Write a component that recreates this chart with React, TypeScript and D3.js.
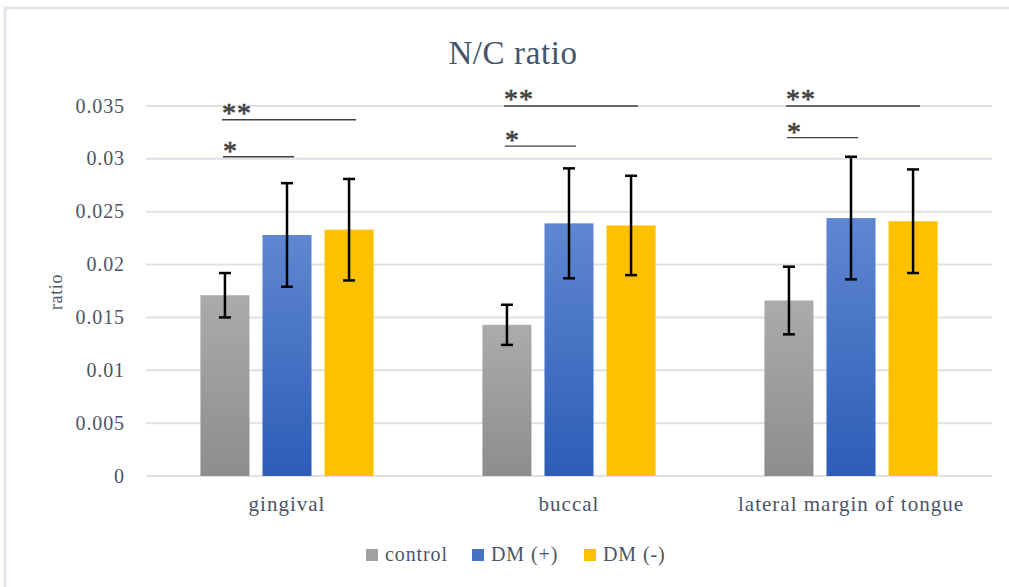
import React from "react";
import * as d3 from "d3";

const categories = ["gingival", "buccal", "lateral margin of tongue"];
const seriesNames = ["control", "DM (+)", "DM (-)"];

const controlValues = [0.0171, 0.0143, 0.0166];
const dmPlusValues = [0.0228, 0.0239, 0.0244];
const dmMinusValues = [0.0233, 0.0237, 0.0241];

const controlErr = [0.0021, 0.0019, 0.0032];
const dmPlusErr = [0.0049, 0.0052, 0.0058];
const dmMinusErr = [0.0048, 0.0047, 0.0049];

const yTicks = [0, 0.005, 0.01, 0.015, 0.02, 0.025, 0.03, 0.035];
const yTickLabels = ["0", "0.005", "0.01", "0.015", "0.02", "0.025", "0.03", "0.035"];

// significance brackets per category: ** control vs DM(-), * control vs DM(+)
const sigDoubleY = [0.0337, 0.035, 0.035];
const sigSingleY = [0.0302, 0.0312, 0.032];

const width = 1009;
const height = 587;
const margin = { top: 106, right: 17, bottom: 111, left: 146 };

const font = "'Liberation Serif', 'Times New Roman', serif";
const textColor = "#4a5567";

export default function App() {
  const x0 = d3
    .scaleBand()
    .domain(categories)
    .range([margin.left, width - margin.right])
    .paddingInner(0)
    .paddingOuter(0);

  const bw = x0.bandwidth();
  const x1 = d3
    .scaleBand()
    .domain(seriesNames)
    .range([bw * 0.193, bw * 0.807])
    .paddingInner(0.21)
    .paddingOuter(0);

  const y = d3
    .scaleLinear()
    .domain([0, 0.035])
    .range([height - margin.bottom, margin.top]);

  const values = [controlValues, dmPlusValues, dmMinusValues];
  const errs = [controlErr, dmPlusErr, dmMinusErr];
  const fills = ["url(#gradGray)", "url(#gradBlue)", "#ffc000"];
  const legendColors = ["#a0a0a0", "#4472c4", "#ffc000"];

  const cx = (cat: string, s: string) =>
    (x0(cat) as number) + (x1(s) as number) + x1.bandwidth() / 2;

  return (
    <svg
      width={width}
      height={height}
      style={{ position: "absolute", left: 0, top: 0, background: "#fff" }}
      fontFamily={font}
    >
      <defs>
        <linearGradient id="gradGray" x1="0" y1="0" x2="0" y2="1">
          <stop offset="0" stopColor="#ababab" />
          <stop offset="1" stopColor="#8d8d8d" />
        </linearGradient>
        <linearGradient id="gradBlue" x1="0" y1="0" x2="0" y2="1">
          <stop offset="0" stopColor="#5f87d1" />
          <stop offset="1" stopColor="#2d5db7" />
        </linearGradient>
      </defs>

      {/* frame */}
      <rect x={5} y={8} width={width + 20} height={height + 20} fill="none" stroke="#e3e6ed" strokeWidth={3} />

      {/* title */}
      <text x={513} y={64} textAnchor="middle" fontSize={33} fill="#44546a" letterSpacing={0.6}>
        N/C ratio
      </text>

      {/* gridlines + y ticks */}
      {yTicks.map((t, i) => (
        <g key={t}>
          <line
            x1={margin.left}
            x2={width - margin.right}
            y1={y(t)}
            y2={y(t)}
            stroke="#dde1e8"
            strokeWidth={2}
          />
          <text
            x={125}
            y={y(t) + 6.5}
            textAnchor="end"
            fontSize={20}
            fill={textColor}
            letterSpacing={0.9}
          >
            {yTickLabels[i]}
          </text>
        </g>
      ))}

      <text
        transform={`translate(62, ${292}) rotate(-90)`}
        textAnchor="middle"
        fontSize={18}
        fill={textColor}
        letterSpacing={0.6}
      >
        ratio
      </text>

      {/* bars */}
      {seriesNames.map((s, si) =>
        categories.map((c, ci) => (
          <rect
            key={s + c}
            x={(x0(c) as number) + (x1(s) as number)}
            y={y(values[si][ci])}
            width={x1.bandwidth()}
            height={y(0) - y(values[si][ci])}
            fill={fills[si]}
          />
        ))
      )}

      {/* error bars */}
      {seriesNames.map((s, si) =>
        categories.map((c, ci) => {
          const px = cx(c, s);
          const hi = y(values[si][ci] + errs[si][ci]);
          const lo = y(values[si][ci] - errs[si][ci]);
          return (
            <g key={"e" + s + c} stroke="#000" strokeWidth={2.5}>
              <line x1={px} x2={px} y1={hi} y2={lo} />
              <line x1={px - 6} x2={px + 6} y1={hi} y2={hi} />
              <line x1={px - 6} x2={px + 6} y1={lo} y2={lo} />
            </g>
          );
        })
      )}

      {/* significance */}
      {categories.map((c, ci) => {
        const start = cx(c, seriesNames[0]) - 3;
        const endDouble = cx(c, seriesNames[2]) + 7;
        const endSingle = cx(c, seriesNames[1]) + 7;
        const yd = y(sigDoubleY[ci]);
        const ys = y(sigSingleY[ci]);
        return (
          <g key={"sig" + c}>
            <line x1={start} x2={endDouble} y1={yd} y2={yd} stroke="#404040" strokeWidth={1.3} />
            <text x={start} y={yd + 2} fontSize={28} fill="#404040" stroke="#404040" strokeWidth={0.6} letterSpacing={1}>
              **
            </text>
            <line x1={start + 1} x2={endSingle} y1={ys} y2={ys} stroke="#404040" strokeWidth={1.3} />
            <text x={start + 1} y={ys + 3} fontSize={28} fill="#404040" stroke="#404040" strokeWidth={0.6}>
              *
            </text>
          </g>
        );
      })}

      {/* x labels */}
      {categories.map((c) => (
        <text
          key={"xl" + c}
          x={(x0(c) as number) + bw / 2}
          y={511}
          textAnchor="middle"
          fontSize={21}
          fill={textColor}
          letterSpacing={1}
        >
          {c}
        </text>
      ))}

      {/* legend */}
      {[366, 472, 584].map((lx, i) => (
        <g key={"lg" + i}>
          <rect x={lx} y={549} width={12} height={12} fill={legendColors[i]} />
          <text x={lx + 19} y={561} fontSize={20} fill={textColor} letterSpacing={0.9}>
            {seriesNames[i]}
          </text>
        </g>
      ))}
    </svg>
  );
}
